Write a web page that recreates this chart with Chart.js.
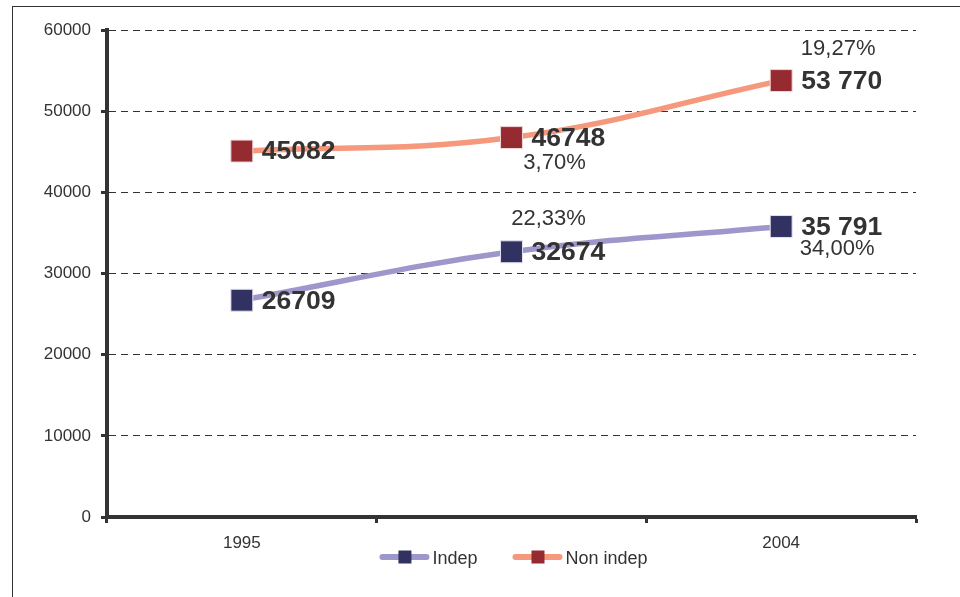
<!DOCTYPE html>
<html>
<head>
<meta charset="utf-8">
<script src="https://cdn.jsdelivr.net/npm/chart.js@4.4.1/dist/chart.umd.min.js"></script>
<style>
  html, body { margin: 0; padding: 0; background: #fff; overflow: hidden; }
  #wrap { position: relative; width: 960px; height: 597px; }
  #frame { position: absolute; left: 12px; top: 6px; width: 980px; height: 620px; border: 1px solid #333; box-sizing: border-box; }
  #chart { position: absolute; left: 0; top: 0; }
</style>
</head>
<body>
<div id="wrap">
  <div id="frame"></div>
  <canvas id="chart" width="960" height="597"></canvas>
</div>
<script>
// data
const years = ['1995', '', '2004'];
const indep = [26709, 32674, 35791];
const nonIndep = [45082, 46748, 53770];
const indepLabels = ['26709', '32674', '35 791'];
const nonIndepLabels = ['45082', '46748', '53 770'];
const indepPct = ['', '22,33%', '34,00%'];
const nonIndepPct = ['', '3,70%', '19,27%'];

const FONT = '"Liberation Sans", Arial, Helvetica, sans-serif';
const TEXT = '#333333';

// value + percentage labels next to each marker
const pointLabels = {
  id: 'pointLabels',
  afterDatasetsDraw(chart) {
    const ctx = chart.ctx;
    chart.data.datasets.forEach((ds, i) => {
      const meta = chart.getDatasetMeta(i);
      meta.data.forEach((pt, j) => {
        ctx.save();
        ctx.fillStyle = TEXT;
        ctx.textBaseline = 'middle';
        ctx.textAlign = 'left';
        ctx.font = 'bold 26.5px ' + FONT;
        ctx.fillText(ds.valueLabels[j], pt.x + 20, pt.y + 1);
        if (ds.pctLabels[j]) {
          const off = ds.pctOffsets[j];
          ctx.textAlign = 'center';
          ctx.font = '22px ' + FONT;
          ctx.fillText(ds.pctLabels[j], pt.x + off[0], pt.y + off[1]);
        }
        ctx.restore();
      });
    });
  }
};

// legend with line + square marker, as in the original
const lineLegend = {
  id: 'lineLegend',
  afterDraw(chart) {
    const ctx = chart.ctx;
    const area = chart.chartArea;
    ctx.save();
    ctx.font = '18px ' + FONT;
    const items = chart.data.datasets.map(ds => ({ ds, w: 53 + ctx.measureText(ds.label).width }));
    const gap = 35;
    const total = items.reduce((a, it) => a + it.w, 0) + gap * (items.length - 1);
    let x = (area.left + area.right) / 2 - total / 2 + 2;
    const y = area.bottom + 40;
    items.forEach(it => {
      ctx.strokeStyle = it.ds.borderColor;
      ctx.lineWidth = 6;
      ctx.lineCap = 'round';
      ctx.beginPath();
      ctx.moveTo(x + 3, y);
      ctx.lineTo(x + 47, y);
      ctx.stroke();
      ctx.fillStyle = it.ds.pointBackgroundColor;
      ctx.fillRect(x + 19, y - 6.5, 13, 13);
      ctx.fillStyle = TEXT;
      ctx.textAlign = 'left';
      ctx.textBaseline = 'middle';
      ctx.fillText(it.ds.label, x + 53, y + 2);
      x += it.w + gap;
    });
    ctx.restore();
  }
};

new Chart(document.getElementById('chart').getContext('2d'), {
  type: 'line',
  data: {
    labels: years,
    datasets: [
      {
        label: 'Indep',
        data: indep,
        borderColor: '#9d97cb',
        borderWidth: 5.5,
        tension: 0.4,
        pointStyle: 'rect',
        pointRadius: 15.5,
        pointBackgroundColor: '#313162',
        pointBorderColor: '#e4e2ef',
        pointBorderWidth: 1,
        valueLabels: indepLabels,
        pctLabels: indepPct,
        pctOffsets: [[0, 0], [37, -33], [56, 22]]
      },
      {
        label: 'Non indep',
        data: nonIndep,
        borderColor: '#f5987c',
        borderWidth: 5.5,
        tension: 0.4,
        pointStyle: 'rect',
        pointRadius: 15.5,
        pointBackgroundColor: '#962a31',
        pointBorderColor: '#f2d6d6',
        pointBorderWidth: 1,
        valueLabels: nonIndepLabels,
        pctLabels: nonIndepPct,
        pctOffsets: [[0, 0], [43, 25], [57, -32]]
      }
    ]
  },
  options: {
    responsive: false,
    maintainAspectRatio: false,
    animation: false,
    layout: { padding: { left: 0, right: 44, top: 30, bottom: 0 } },
    plugins: {
      legend: { display: false },
      tooltip: { enabled: false }
    },
    scales: {
      x: {
        offset: true,
        grid: {
          offset: true,
          drawOnChartArea: false,
          drawTicks: true,
          tickLength: 6,
          tickWidth: 3,
          tickColor: '#333'
        },
        border: { color: '#333', width: 4 },
        ticks: { color: TEXT, font: { family: FONT, size: 17 }, padding: 10, maxRotation: 0, autoSkip: false },
        afterFit(s) { s.height = 80; }
      },
      y: {
        min: 0,
        max: 60000,
        ticks: {
          stepSize: 10000,
          color: TEXT,
          font: { family: FONT, size: 17 },
          padding: 10,
          callback: v => String(v)
        },
        grid: {
          color: '#333',
          lineWidth: 1,
          tickLength: 6,
          tickWidth: 3,
          tickColor: '#333',
          tickBorderDash: []
        },
        border: { color: '#333', width: 4, dash: [7, 5] },
        afterFit(s) { s.width = 107; }
      }
    }
  },
  plugins: [pointLabels, lineLegend]
});
</script>
</body>
</html>
